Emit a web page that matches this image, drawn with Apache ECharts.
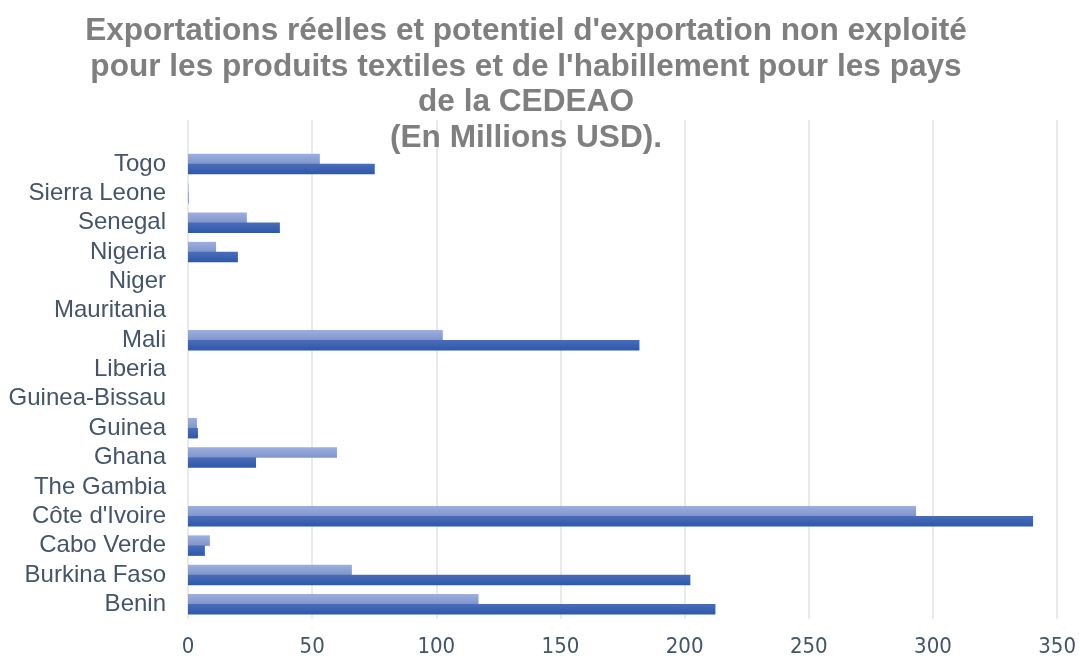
<!DOCTYPE html>
<html>
<head>
<meta charset="utf-8">
<script src="https://cdn.jsdelivr.net/npm/echarts@6/dist/echarts.min.js"></script>
<style>html,body{margin:0;padding:0;background:#fff}#c{width:1079px;height:659px}</style>
</head>
<body>
<div id="c"></div>
<script>
var categories = ['Benin','Burkina Faso','Cabo Verde',"Côte d'Ivoire",'The Gambia','Ghana','Guinea','Guinea-Bissau','Liberia','Mali','Mauritania','Niger','Nigeria','Senegal','Sierra Leone','Togo',''];
var potentialValues = [117, 66, 8.8, 293.2, 0, 60, 3.6, 0, 0, 102.6, 0, 0, 11.3, 23.7, 0.2, 53.1, null];
var exportValues = [212.4, 202.3, 6.8, 340.3, 0, 27.4, 4.0, 0, 0, 181.8, 0, 0, 20.1, 37.0, 0.2, 75.2, null];
var xTicks = {min: 0, max: 350, interval: 50};
var titleText = "Exportations réelles et potentiel d'exportation non exploité\npour les produits textiles et de l'habillement pour les pays\nde la CEDEAO\n(En Millions USD).";

var chart = echarts.init(document.getElementById('c'), null, {renderer: 'canvas'});
function grad(a, b) {
  return new echarts.graphic.LinearGradient(0, 0, 0, 1, [{offset: 0, color: a}, {offset: 1, color: b}]);
}
chart.setOption({
  animation: false,
  title: {
    text: titleText,
    left: 521,
    textAlign: 'center',
    top: 9,
    textStyle: {fontFamily: 'Liberation Sans, Arial, sans-serif', fontWeight: 'bold', fontSize: 31.6, lineHeight: 35.5, color: '#7F7F7F'}
  },
  grid: {left: 188, right: 21, top: 120, bottom: 40, containLabel: false},
  xAxis: {
    type: 'value', min: xTicks.min, max: xTicks.max, interval: xTicks.interval,
    axisLine: {show: false}, axisTick: {show: false},
    splitLine: {show: true, lineStyle: {color: '#E1E4E9', width: 1.5}},
    axisLabel: {color: '#44546A', fontSize: 22, margin: 17, fontFamily: 'Liberation Sans Narrow, DejaVu Sans Condensed, sans-serif'}
  },
  yAxis: {
    type: 'category', data: categories,
    axisLine: {show: false}, axisTick: {show: false},
    axisLabel: {interval: 0, color: '#44546A', fontSize: 24, margin: 22, padding: [4, 0, 0, 0], fontFamily: 'Liberation Sans, Arial, sans-serif'}
  },
  series: [
    {name: "Potentiel d'exportation non exploité", type: 'bar', data: potentialValues, barWidth: 10.5, barGap: '-5%',
     itemStyle: {color: grad('#9DAFDF', '#8094CB')}},
    {name: 'Exportations réelles', type: 'bar', data: exportValues, barWidth: 10.5, barGap: '-5%',
     itemStyle: {color: grad('#4C6DB8', '#2B58AC')}}
  ]
});
</script>
</body>
</html>
